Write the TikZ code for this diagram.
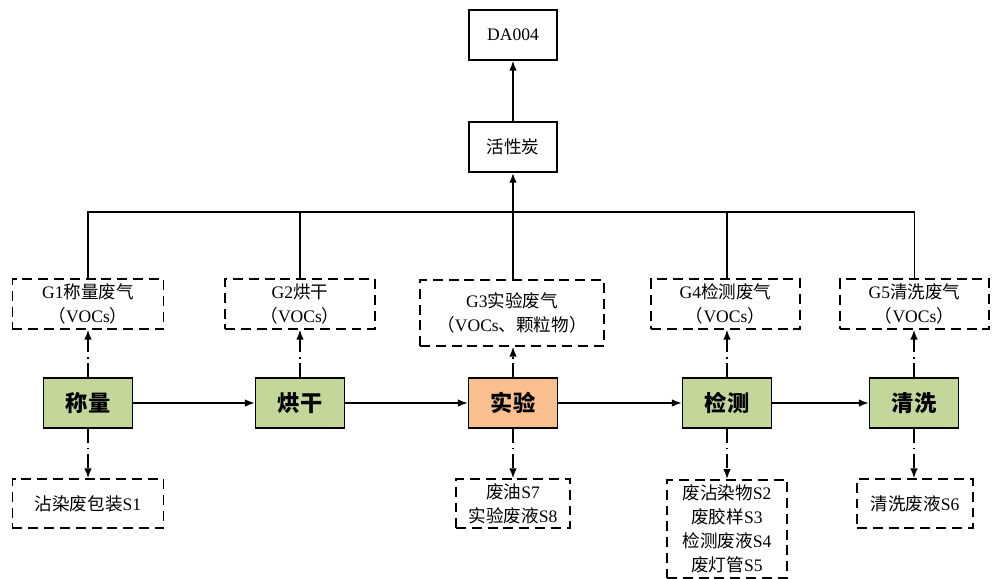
\documentclass[tikz,border=0pt]{standalone}
\usepackage{fontspec}
\setmainfont{Liberation Serif}
\newfontfamily\cjk{Noto Sans CJK SC}
\usetikzlibrary{arrows.meta}
\definecolor{procgreen}{RGB}{196,215,155}
\definecolor{procorange}{RGB}{250,191,143}
\tikzset{
    proc/.style={draw, line width=1.3pt, fill=procgreen, minimum width=2.67cm, minimum height=1.5cm, inner sep=0, font=\cjk\bfseries\fontsize{19}{22}\selectfont},
    plain/.style={draw, line width=1.3pt, minimum width=2.64cm, minimum height=1.5cm, inner sep=0, font=\fontsize{15}{20}\selectfont},
    waste/.style={draw, line width=1.3pt, dash pattern=on 8.5pt off 5pt, align=center, inner sep=0, font=\fontsize{15}{20.5}\selectfont},
    link/.style={line width=1.3pt, -{Latex[length=8.5pt,width=6.5pt]}},
    dotlink/.style={link, dash pattern=on 12pt off 4pt on 1.2pt off 4pt}
    }

\begin{document}
\begin{tikzpicture}[x=0.03cm, y=-0.03cm]
                \useasboundingbox (0,0) rectangle (992,578);
                % treatment
                \node(da)[plain] at (513,35){DA004};
                \node(hxt)[plain] at (513,147){\cjk 活性炭};
                % process line
                \node(cl)[proc] at (88,403){称量};
                \node(hg)[proc] at (300,403){烘干};
                \node(sy)[proc, fill=procorange] at (513,403){实验};
                \node(jc)[proc] at (727,403){检测};
                \node(qx)[proc] at (914,403){清洗};
                % waste gas
                \node(g1)[waste, minimum width=4.53cm, minimum height=1.5cm] at (88,304){G1{\cjk 称量废气}\\{\cjk （}VOCs{\cjk ）}};
                \node(g2)[waste, minimum width=4.5cm, minimum height=1.5cm] at (300,304){G2{\cjk 烘干}\\{\cjk （}VOCs{\cjk ）}};
                \node(g3)[waste, minimum width=5.52cm, minimum height=1.98cm] at (512,313){G3{\cjk 实验废气}\\{\cjk （}VOCs{\cjk 、颗粒物）}};
                \node(g4)[waste, minimum width=4.47cm, minimum height=1.5cm] at (725.5,304){G4{\cjk 检测废气}\\{\cjk （}VOCs{\cjk ）}};
                \node(g5)[waste, minimum width=4.47cm, minimum height=1.5cm] at (914.5,304){G5{\cjk 清洗废气}\\{\cjk （}VOCs{\cjk ）}};
                % solid waste
                \node(s1)[waste, minimum width=4.53cm, minimum height=1.47cm] at (88,503.5){{\cjk 沾染废包装}S1};
                \node(s7)[waste, minimum width=3.42cm, minimum height=1.47cm] at (513,503.5){{\cjk 废油}S7\\{\cjk 实验废液}S8};
                \node(s2)[waste, minimum width=3.6cm, minimum height=2.94cm, anchor=north] at (727,479){{\cjk 废沾染物}S2\\{\cjk 废胶样}S3\\{\cjk 检测废液}S4\\{\cjk 废灯管}S5};
                \node(s6)[waste, minimum width=3.48cm, minimum height=1.47cm] at (915,503.5){{\cjk 清洗废液}S6};
                \coordinate(bus) at (513,212);
                % connectors
                \draw[link] (cl) -- (hg);
                \draw[link] (hg) -- (sy);
                \draw[link] (sy) -- (jc);
                \draw[link] (jc) -- (qx);
                \draw[line width=1.3pt] (g1.north) |- (bus) -| (g5.north);
                \draw[line width=1.3pt] (g2.north) -- (g2.north |- bus);
                \draw[line width=1.3pt] (g4.north -| jc) -- (jc |- bus);
                \draw[line width=1.3pt] (g3.north -| sy) -- (bus);
                \draw[link, line width=1.9pt] (bus) -- (hxt.south);
                \draw[link] (hxt) -- (da);
                \foreach \p/\g in {cl/g1, hg/g2, sy/g3, jc/g4, qx/g5}
                    \draw[dotlink] (\p.north) -- (\p.north |- \g.south);
                \foreach \p/\s in {cl/s1, sy/s7, jc/s2, qx/s6}
                    \draw[dotlink] (\p.south) -- (\p.south |- \s.north);
            \end{tikzpicture}
\end{document}
